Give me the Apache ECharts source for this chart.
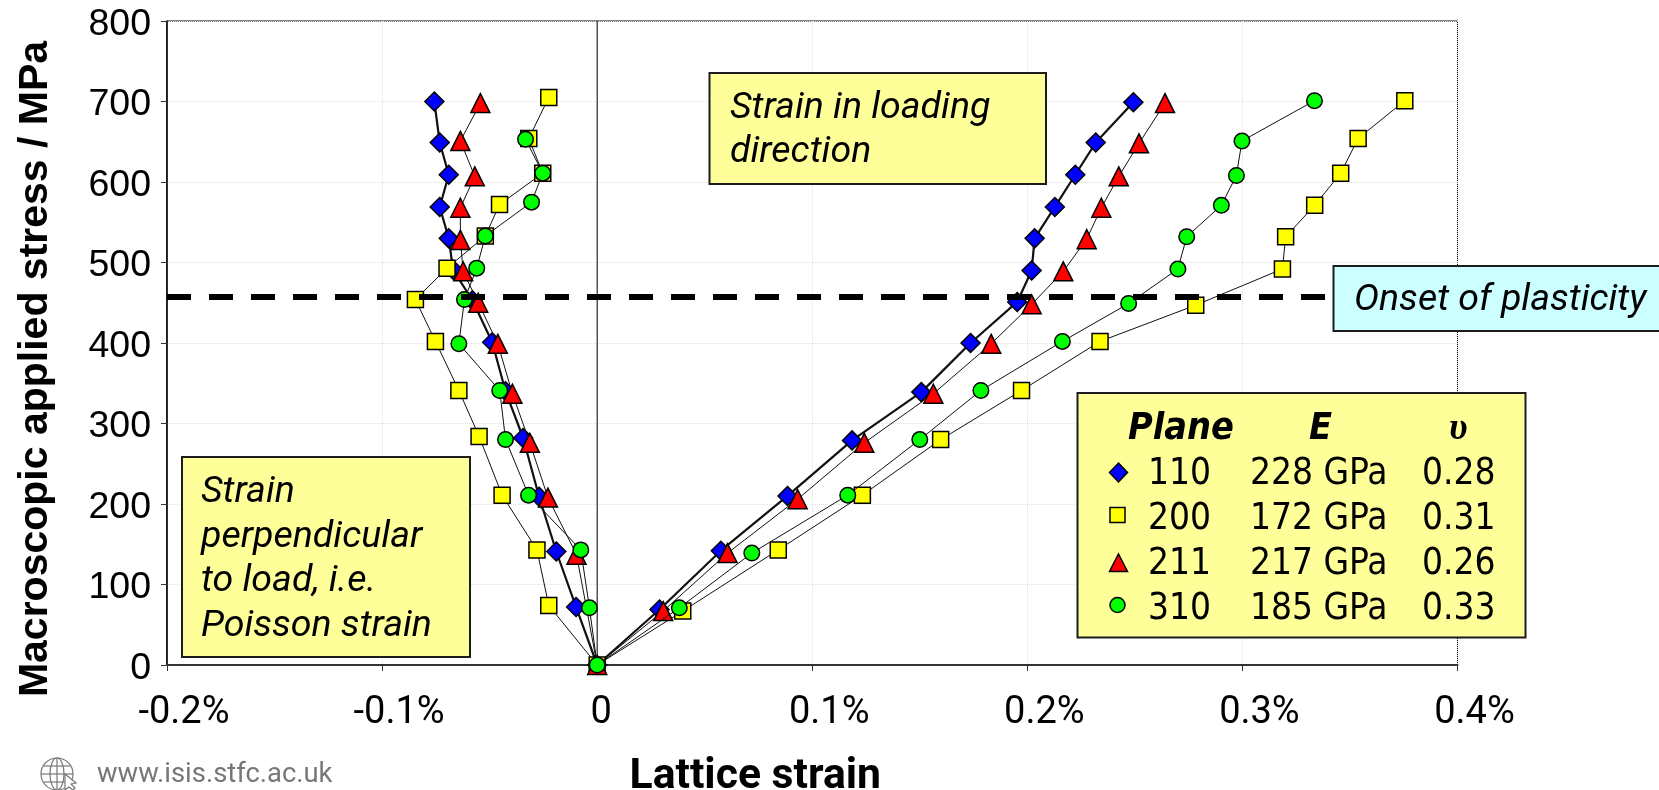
<!DOCTYPE html>
<html>
<head>
<meta charset="utf-8">
<style>html,body{margin:0;padding:0;background:#fff}#c{width:1659px;height:790px}</style>
<script src="https://cdn.jsdelivr.net/npm/echarts@6/dist/echarts.min.js"></script>
</head>
<body>
<div id="c"></div>
<script>
// Each plane runs from the top of its Poisson branch, through the origin, to the top of its loading branch.
const strain110 = [-0.0757,-0.0732,-0.069,-0.0732,-0.069,-0.067,-0.058,-0.0488,-0.0426,-0.0344,-0.027,-0.019,-0.0098,0,0.029,0.0575,0.0885,0.1185,0.1507,0.1736,0.1953,0.2020,0.2034,0.2128,0.2223,0.2318,0.2493];
const stress110 = [700,649,609,569,530,491,453,401,340,282,209,141,72,0,69,142,210,279,339,400,451,490,530,569,609,649,699];
const strain200 = [-0.0225,-0.0318,-0.0253,-0.0454,-0.052,-0.0698,-0.0845,-0.0752,-0.0643,-0.0549,-0.0442,-0.028,-0.0225,0,0.0398,0.0842,0.1233,0.1597,0.1973,0.2338,0.2783,0.3186,0.3201,0.3336,0.3457,0.3538,0.3755];
const stress200 = [705,654,611,572,533,493,454,402,341,284,211,143,74,0,67,143,211,280,341,402,447,492,532,571,611,654,701];
const strain211 = [-0.0543,-0.0636,-0.0569,-0.0636,-0.0636,-0.0623,-0.0553,-0.0462,-0.0394,-0.0313,-0.0229,-0.0096,0,0.0307,0.0606,0.0932,0.1242,0.1563,0.1832,0.2020,0.2167,0.2276,0.2344,0.2425,0.2519,0.2640];
const stress211 = [698,651,607,568,528,489,450,399,337,276,208,137,0,67,139,206,276,337,399,448,489,529,568,607,648,698];
const strain310 = [-0.0333,-0.0253,-0.0305,-0.052,-0.056,-0.0617,-0.0643,-0.0453,-0.0426,-0.0319,-0.0076,-0.0036,0,0.0382,0.0719,0.1165,0.1500,0.1784,0.2163,0.2471,0.2700,0.2741,0.2902,0.2972,0.2998,0.3335];
const stress310 = [653,611,575,533,493,454,399,341,280,211,143,71,0,71,139,211,280,341,402,449,492,532,571,608,651,701];
const xTickLabels = ['-0.2%','-0.1%','0','0.1%','0.2%','0.3%','0.4%'];
const onsetStress = 457;
const legendRows = [
  ['110','228 GPa','0.28'],
  ['200','172 GPa','0.31'],
  ['211','217 GPa','0.26'],
  ['310','185 GPa','0.33']
];

const zip = (a, b) => a.map((v, i) => [v, b[i]]);
const Z = 100;
function txt(text, x, base, size, family, extra) {
  return {type:'text', z:Z+2, style:Object.assign({
    text, x, y:base-0.27*size, verticalAlign:'middle', fill:'#000',
    font:(extra&&extra.weight?extra.weight+' ':'')+size+'px '+family
  }, extra&&extra.style||{})};
}
function box(x0,y0,x1,y1,fill){
  return {type:'rect', z:Z, shape:{x:x0,y:y0,width:x1-x0,height:y1-y0},
    style:{fill, stroke:'#1c1c1c', lineWidth:2}};
}
const RB = 'Roboto', TAH = '"DejaVu Sans Condensed","DejaVu Sans"';
const mark = {stroke:'#000', lineWidth:1.5};
const graphics = [
  box(182,457,470,657,'#FFFF99'),
  txt('Strain',201,502.5,37.5,RB,{weight:'italic'}),
  txt('perpendicular',201,547.5,37.5,RB,{weight:'italic'}),
  txt('to load, i.e.',201,591.5,37.5,RB,{weight:'italic'}),
  txt('Poisson strain',201,636.5,37.5,RB,{weight:'italic'}),
  box(709.5,73,1046,184,'#FFFF99'),
  txt('Strain in loading',730,119,37.5,RB,{weight:'italic'}),
  txt('direction',730,162.5,37.5,RB,{weight:'italic'}),
  box(1333.5,266,1670,331,'#CCFFFF'),
  txt('Onset of plasticity',1354,310.5,37.5,RB,{weight:'italic'}),
  box(1077.5,393,1525.5,637.5,'#FFFF99'),
  txt('Plane',1128,439,37.5,TAH,{weight:'italic bold'}),
  txt('E',1309,439,37.5,TAH,{weight:'italic bold'}),
  txt('υ',1449,439,38,'"Liberation Serif"',{weight:'italic bold'}),
  {type:'polygon',z:Z+2,shape:{points:[[1118.5,463],[1127.5,472.5],[1118.5,482],[1109.5,472.5]]},style:Object.assign({fill:'#0000FF'},mark)},
  {type:'rect',z:Z+2,shape:{x:1110,y:507.5,width:15,height:15},style:Object.assign({fill:'#FFFF00'},mark)},
  {type:'polygon',z:Z+2,shape:{points:[[1118.5,554],[1127.5,571.5],[1109.5,571.5]]},style:Object.assign({fill:'#FF0000'},mark)},
  {type:'circle',z:Z+2,shape:{cx:1117.5,cy:605,r:7.5},style:Object.assign({fill:'#00FF00'},mark)},
  txt('www.isis.stfc.ac.uk',97,783,27.4,RB,{style:{fill:'#777'}}),
  {type:'circle',z:Z,shape:{cx:57,cy:774,r:16},style:{fill:'none',stroke:'#777',lineWidth:1.2}},
  {type:'ellipse',z:Z,shape:{cx:57,cy:774,rx:7,ry:16},style:{fill:'none',stroke:'#777',lineWidth:1.2}},
  {type:'line',z:Z,shape:{x1:57,y1:758,x2:57,y2:790},style:{stroke:'#777',lineWidth:1.2}},
  {type:'line',z:Z,shape:{x1:41,y1:774,x2:73,y2:774},style:{stroke:'#777',lineWidth:1.2}},
  {type:'line',z:Z,shape:{x1:44,y1:766,x2:70,y2:766},style:{stroke:'#777',lineWidth:1.2}},
  {type:'line',z:Z,shape:{x1:44,y1:782,x2:70,y2:782},style:{stroke:'#777',lineWidth:1.2}},
  {type:'polygon',z:Z+1,shape:{points:[[65,774],[65,790],[69,787],[73,790],[75,788],[71,784],[76,783]]},style:{fill:'#fff',stroke:'#777',lineWidth:1.2}}
];
legendRows.forEach((r,i)=>{
  const base = 484 + i*45;
  graphics.push(txt(r[0],1148,base,36.7,TAH));
  graphics.push(txt(r[1],1250,base,36.7,TAH));
  graphics.push(txt(r[2],1422,base,36.7,TAH));
});

function plane(name, xs, ys, symbol, size, color, width, z){
  return {name, type:'line', data:zip(xs,ys), symbol, symbolSize:size, showAllSymbols:true, showSymbol:true,
    clip:false, z, animation:false, silent:true,
    lineStyle:{color:'#111', width},
    itemStyle:{color, borderColor:'#000', borderWidth:1.5}};
}
const chart = echarts.init(document.getElementById('c'), null, {renderer:'canvas'});
chart.setOption({
  animation:false,
  backgroundColor:'#fff',
  grid:{left:167, top:21, width:1290.5, height:644, show:true, borderColor:'#000', borderWidth:1, backgroundColor:'transparent', containLabel:false, outerBoundsMode:'none'},
  xAxis:{type:'value', min:-0.2, max:0.4, interval:0.1,
    name:'Lattice strain', nameLocation:'middle', nameGap:91,
    nameTextStyle:{fontFamily:RB, fontWeight:'bold', fontSize:42.7, color:'#000', padding:[0,114,0,0]},
    axisLine:{show:true, onZero:false, lineStyle:{color:'#333', width:2}},
    axisTick:{show:true, inside:false, length:6, lineStyle:{color:'#333', width:1}},
    splitLine:{show:true, lineStyle:{color:'#e0e0e0', width:1, type:'dotted'}},
    axisLabel:{margin:29, color:'#000', hideOverlap:false, showMinLabel:true, showMaxLabel:true,
      formatter:v=>{const s=xTickLabels[Math.round((v+0.2)*10)]; return s==='0'?'{z|0}':'{a|'+s+'}';},
      rich:{a:{fontFamily:RB,fontSize:38,color:'#000',padding:[0,0,0,34]},
            z:{fontFamily:RB,fontSize:38,color:'#000',padding:[0,0,0,8]}}}
  },
  yAxis:{type:'value', min:0, max:800, interval:100,
    name:'Macroscopic applied stress / MPa', nameLocation:'middle', nameGap:111, nameRotate:90,
    nameTextStyle:{fontFamily:'"Liberation Sans"', fontWeight:'bold', fontSize:41, color:'#000', padding:[0,52,0,0]},
    axisLine:{show:true, onZero:false, lineStyle:{color:'#000', width:1.5}},
    axisTick:{show:true, length:6, lineStyle:{color:'#333', width:1}},
    splitLine:{show:true, lineStyle:{color:'#e0e0e0', width:1, type:'dotted'}},
    axisLabel:{margin:16, color:'#000', formatter:v=>'{a|'+v+'}',
      rich:{a:{fontFamily:'"Liberation Sans"', fontSize:37.5, color:'#000', padding:[7,0,0,0]}}}
  },
  series:[
    {name:'zero strain', type:'line', data:[[0,0],[0,800]], symbol:'none', z:1, silent:true, lineStyle:{color:'#000',width:1}},
    plane('110',strain110,stress110,'diamond',19,'#0000FF',2.2,3),
    plane('200',strain200,stress200,'rect',16,'#FFFF00',1,4),
    plane('211',strain211,stress211,'triangle',19,'#FF0000',1,5),
    plane('310',strain310,stress310,'circle',15.5,'#00FF00',1,6),
    {name:'Onset of plasticity', type:'line', data:[[-0.2,onsetStress],[0.4,onsetStress]], symbol:'none', z:20, silent:true,
      lineStyle:{color:'#000', width:6, type:[24,18], cap:'butt'}}
  ],
  graphic:{elements:graphics}
});
</script>
</body>
</html>
